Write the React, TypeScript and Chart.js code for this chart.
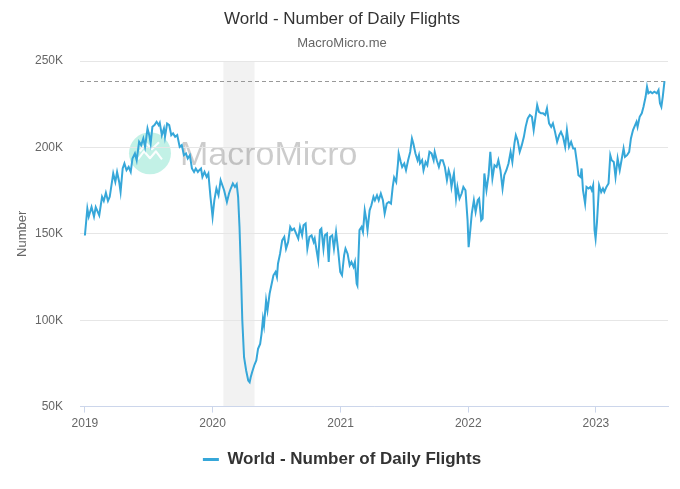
import { useEffect, useRef } from 'react';
import { Chart, registerables } from 'chart.js';

Chart.register(...registerables);

const FONT = '"Liberation Sans", Arial, Helvetica, sans-serif';
const TITLE = 'World - Number of Daily Flights';
const SUBTITLE = 'MacroMicro.me';
const Y_TITLE = 'Number';
const WATERMARK = 'MacroMicro';
const LINE_COLOR = '#36a7d9';

// x axis
const yearTicks = [2019, 2020, 2021, 2022, 2023];
const xRange = ['2018-12-18', '2023-07-26'];
// y axis (thousands)
const yTicks = [50, 100, 150, 200, 250];
// shaded period
const recession = ['2020-02-01', '2020-04-30'];

const dates = [
  '2019-01-01','2019-01-08','2019-01-12','2019-01-20','2019-01-27','2019-02-01','2019-02-11','2019-02-19','2019-02-24','2019-03-02',
  '2019-03-08','2019-03-13','2019-03-23','2019-03-29','2019-04-03','2019-04-09','2019-04-13','2019-04-19','2019-04-24','2019-04-30',
  '2019-05-06','2019-05-12','2019-05-17','2019-05-24','2019-05-29','2019-06-05','2019-06-11','2019-06-17','2019-06-22','2019-06-29',
  '2019-07-04','2019-07-08','2019-07-13','2019-07-19','2019-07-25','2019-07-31','2019-08-03','2019-08-09','2019-08-15','2019-08-18',
  '2019-08-24','2019-08-30','2019-09-05','2019-09-10','2019-09-16','2019-09-22','2019-09-29','2019-10-05','2019-10-11','2019-10-17',
  '2019-10-22','2019-10-28','2019-11-03','2019-11-09','2019-11-14','2019-11-20','2019-11-24','2019-11-29','2019-12-03','2019-12-09',
  '2019-12-15','2019-12-20','2019-12-26',
  '2020-01-01','2020-01-06','2020-01-12','2020-01-18','2020-01-24','2020-01-29','2020-02-03','2020-02-11','2020-02-17','2020-02-22',
  '2020-02-28','2020-03-05','2020-03-10','2020-03-14','2020-03-18','2020-03-22','2020-03-26','2020-03-31','2020-04-06','2020-04-12',
  '2020-04-16','2020-04-19','2020-04-23','2020-04-29','2020-05-05','2020-05-10','2020-05-16','2020-05-20','2020-05-24','2020-05-27',
  '2020-06-02','2020-06-06','2020-06-12','2020-06-18','2020-06-23','2020-06-29','2020-07-03','2020-07-06','2020-07-12','2020-07-18',
  '2020-07-24','2020-07-29','2020-08-04','2020-08-10','2020-08-15','2020-08-21','2020-08-27','2020-09-02','2020-09-07','2020-09-13',
  '2020-09-17','2020-09-23','2020-09-28','2020-10-04','2020-10-10','2020-10-16','2020-10-19','2020-10-25','2020-10-29','2020-11-03',
  '2020-11-07','2020-11-13','2020-11-17','2020-11-23','2020-11-28','2020-12-02','2020-12-08','2020-12-13','2020-12-19','2020-12-25',
  '2020-12-31',
  '2021-01-05','2021-01-11','2021-01-15','2021-01-21','2021-01-27','2021-02-01','2021-02-07','2021-02-11','2021-02-16','2021-02-18',
  '2021-02-24','2021-03-02','2021-03-06','2021-03-11','2021-03-15','2021-03-19','2021-03-25','2021-03-30','2021-04-05','2021-04-09',
  '2021-04-15','2021-04-20','2021-04-26','2021-05-02','2021-05-07','2021-05-13','2021-05-19','2021-05-25','2021-05-30','2021-06-03',
  '2021-06-09','2021-06-14','2021-06-16','2021-06-22','2021-06-26','2021-07-02','2021-07-07','2021-07-13','2021-07-19','2021-07-24',
  '2021-07-28','2021-08-03','2021-08-09','2021-08-13','2021-08-16','2021-08-22','2021-08-26','2021-09-01','2021-09-06','2021-09-12',
  '2021-09-18','2021-09-24','2021-09-27','2021-10-03','2021-10-09','2021-10-14','2021-10-20','2021-10-26','2021-11-01','2021-11-06',
  '2021-11-10','2021-11-14','2021-11-18','2021-11-21','2021-11-27','2021-12-01','2021-12-07','2021-12-13','2021-12-18','2021-12-24',
  '2021-12-30',
  '2022-01-02','2022-01-05','2022-01-11','2022-01-17','2022-01-22','2022-01-28','2022-02-01','2022-02-07','2022-02-11','2022-02-16',
  '2022-02-22','2022-02-28','2022-03-05','2022-03-11','2022-03-17','2022-03-23','2022-03-28','2022-04-03','2022-04-09','2022-04-14',
  '2022-04-20','2022-04-26','2022-05-02','2022-05-07','2022-05-13','2022-05-17','2022-05-22','2022-05-28','2022-06-03','2022-06-09',
  '2022-06-14','2022-06-20','2022-06-26','2022-07-02','2022-07-07','2022-07-11','2022-07-17','2022-07-22','2022-07-28','2022-08-03',
  '2022-08-09','2022-08-14','2022-08-20','2022-08-26','2022-08-31','2022-09-06','2022-09-12','2022-09-18','2022-09-23','2022-09-29',
  '2022-10-05','2022-10-10','2022-10-16','2022-10-22','2022-10-28','2022-11-02','2022-11-08','2022-11-12','2022-11-18','2022-11-21',
  '2022-11-25','2022-12-01','2022-12-05','2022-12-11','2022-12-16','2022-12-20','2022-12-24','2022-12-28','2022-12-31',
  '2023-01-04','2023-01-10','2023-01-16','2023-01-21','2023-01-25','2023-01-31','2023-02-06','2023-02-11','2023-02-15','2023-02-21',
  '2023-02-26','2023-03-04','2023-03-10','2023-03-16','2023-03-21','2023-03-25','2023-03-31','2023-04-06','2023-04-11','2023-04-17',
  '2023-04-23','2023-04-27','2023-04-30','2023-05-06','2023-05-12','2023-05-17','2023-05-23','2023-05-27','2023-05-31','2023-06-06',
  '2023-06-11','2023-06-17','2023-06-24','2023-06-29','2023-07-03','2023-07-07','2023-07-11','2023-07-16',
];

// daily flights, thousands
const flights = [
  149.0,164.6,160.0,165.5,160.0,165.4,160.7,171.4,169.0,173.7,
  169.0,171.4,184.9,180.0,185.8,180.0,174.2,187.8,190.7,186.8,
  188.7,185.8,193.6,196.5,192.6,203.2,201.3,205.2,200.3,211.0,
  207.1,202.3,211.9,212.9,214.8,212.9,214.2,207.1,211.0,206.1,
  213.8,212.9,207.1,208.1,206.1,207.1,200.3,201.3,195.5,196.5,
  193.6,195.5,187.8,185.8,187.8,185.8,186.8,187.8,182.9,185.8,
  182.9,184.9,171.4,
  159.8,169.4,176.2,172.3,181.0,178.1,175.2,168.4,173.3,176.2,
  179.1,177.1,178.7,171.4,154.0,128.8,99.9,78.6,70.9,65.1,
  64.1,67.0,69.9,73.8,76.7,83.4,86.3,92.1,100.8,96.9,
  111.4,105.7,115.3,121.1,126.0,127.9,125.0,132.7,138.5,146.2,
  148.2,141.4,145.3,154.0,152.1,153.0,150.1,147.2,154.0,149.1,
  154.9,155.9,141.4,148.2,149.1,145.3,147.2,139.5,134.6,152.1,
  153.0,141.4,149.1,150.1,133.7,148.2,149.1,141.4,151.1,140.4,
  127.9,
  126.0,137.5,141.4,138.5,131.7,133.7,130.8,133.7,121.1,120.1,
  152.1,154.0,151.1,163.6,158.8,152.1,163.6,166.5,171.4,169.4,
  172.3,169.4,173.3,169.4,161.7,167.5,168.4,167.5,177.1,182.6,
  180.0,190.7,196.5,191.6,188.7,190.7,186.8,192.6,197.4,205.2,
  202.3,196.5,192.6,195.5,190.7,192.6,186.8,191.6,189.7,197.4,
  196.5,192.6,197.4,192.6,188.7,192.6,192.6,188.7,181.0,186.8,
  183.9,177.1,182.0,184.9,170.4,177.1,170.4,173.3,177.1,175.2,
  157.8,
  142.3,148.2,161.7,169.4,162.7,169.4,170.4,157.8,158.8,184.9,
  175.2,183.9,197.4,182.0,189.7,188.7,192.6,186.8,176.2,183.9,
  186.8,190.7,197.4,191.6,202.3,207.1,204.2,197.4,201.3,206.1,
  211.9,216.8,218.7,217.7,210.0,215.8,224.5,220.6,219.7,219.7,
  218.7,222.6,213.9,211.9,213.9,209.0,203.2,207.1,209.0,206.1,
  200.3,210.0,200.3,203.2,199.4,199.4,190.7,183.9,182.9,187.8,
  175.2,167.5,177.1,176.2,177.1,175.2,178.1,152.1,147.2,
  156.9,178.1,174.2,176.2,174.2,177.1,179.1,195.5,192.6,191.6,
  182.9,193.6,186.8,193.6,199.4,194.5,195.5,197.4,205.2,210.0,
  212.9,214.8,211.9,217.7,219.7,223.5,229.3,235.1,231.3,232.2,
  231.3,232.2,231.3,233.2,225.5,223.5,229.3,238.4,
];

const ts = (d: string) => Date.parse(d);

const backgroundPlugin = {
  id: 'bgDecor',
  beforeDraw(chart: any) {
    const { ctx, chartArea: a, scales } = chart;
    const x0 = scales.x.getPixelForValue(ts(recession[0]));
    const x1 = scales.x.getPixelForValue(ts(recession[1]));
    ctx.save();
    ctx.fillStyle = '#f2f2f2';
    ctx.fillRect(x0, a.top, x1 - x0, a.bottom - a.top);

    // watermark
    const w = a.right - a.left;
    const h = a.bottom - a.top;
    const cx = a.left + w * 0.119;
    const cy = a.top + h * 0.267;
    ctx.fillStyle = 'rgba(120, 225, 200, 0.45)';
    ctx.beginPath();
    ctx.arc(cx, cy, 21, 0, Math.PI * 2);
    ctx.fill();
    ctx.strokeStyle = 'rgba(255,255,255,0.95)';
    ctx.lineWidth = 2;
    ctx.lineJoin = 'round';
    ctx.beginPath();
    ctx.moveTo(cx - 12, cy + 6);
    ctx.lineTo(cx - 6, cy - 2);
    ctx.lineTo(cx, cy + 5);
    ctx.lineTo(cx + 6, cy - 2);
    ctx.lineTo(cx + 12, cy + 6);
    ctx.stroke();
    ctx.beginPath();
    ctx.moveTo(cx - 10, cy - 2);
    ctx.lineTo(cx - 4, cy - 10);
    ctx.lineTo(cx + 2, cy - 4);
    ctx.lineTo(cx + 9, cy - 11);
    ctx.stroke();
    ctx.font = `34px ${FONT}`;
    ctx.fillStyle = 'rgba(0,0,0,0.2)';
    ctx.textBaseline = 'alphabetic';
    ctx.textAlign = 'left';
    ctx.fillText(WATERMARK, a.left + w * 0.17, a.top + h * 0.301);
    ctx.restore();
  },
  beforeDatasetsDraw(chart: any) {
    const { ctx, chartArea: a, scales } = chart;
    const y = scales.y.getPixelForValue(flights[flights.length - 1]);
    ctx.save();
    ctx.strokeStyle = '#999999';
    ctx.lineWidth = 1;
    ctx.setLineDash([4, 3]);
    ctx.beginPath();
    ctx.moveTo(a.left, Math.round(y) + 0.5);
    ctx.lineTo(a.right, Math.round(y) + 0.5);
    ctx.stroke();
    ctx.restore();
  },
};

export default function App() {
  const ref = useRef<HTMLCanvasElement | null>(null);

  useEffect(() => {
    if (!ref.current) return;
    Chart.defaults.font.family = FONT;
    const points = dates.map((d, i) => ({ x: ts(d), y: flights[i] }));
    const chart = new Chart(ref.current, {
      type: 'line',
      data: {
        datasets: [
          {
            label: TITLE,
            data: points,
            borderColor: LINE_COLOR,
            backgroundColor: LINE_COLOR,
            borderWidth: 2,
            pointRadius: 0,
            tension: 0,
            fill: false,
          },
        ],
      },
      options: {
        responsive: false,
        animation: false,
        layout: { padding: { left: 16, right: 12, top: 0, bottom: 11 } },
        plugins: {
          title: {
            display: true,
            text: TITLE,
            color: '#333333',
            font: { family: FONT, size: 17, weight: 'normal' },
            padding: { top: 9, bottom: 4 },
          },
          subtitle: {
            display: true,
            text: SUBTITLE,
            color: '#666666',
            font: { family: FONT, size: 13 },
            padding: { top: 2, bottom: 10 },
          },
          legend: {
            position: 'bottom',
            labels: {
              boxWidth: 16,
              boxHeight: 3,
              padding: 16,
              color: '#333333',
              font: { family: FONT, size: 17, weight: 'bold' },
              generateLabels: (c: any) =>
                Chart.defaults.plugins.legend.labels
                  .generateLabels(c)
                  .map((l: any) => ({ ...l, lineWidth: 0 })),
            },
          },
          tooltip: { enabled: false },
        },
        scales: {
          x: {
            type: 'linear',
            min: ts(xRange[0]),
            max: ts(xRange[1]),
            afterBuildTicks: (scale: any) => {
              scale.ticks = yearTicks.map((y) => ({ value: Date.UTC(y, 0, 1) }));
            },
            grid: {
              drawOnChartArea: false,
              drawTicks: true,
              tickLength: 6,
              color: '#ccd6eb',
            },
            border: { display: true, color: '#ccd6eb' },
            ticks: {
              color: '#666666',
              font: { family: FONT, size: 12 },
              padding: 4,
              maxRotation: 0,
              autoSkip: false,
              callback: (v: any) => String(new Date(Number(v)).getUTCFullYear()),
            },
          },
          y: {
            min: yTicks[0],
            max: yTicks[yTicks.length - 1],
            afterBuildTicks: (scale: any) => {
              scale.ticks = yTicks.map((v) => ({ value: v }));
            },
            afterFit: (scale: any) => {
              scale.width = 64;
            },
            grid: { color: '#e6e6e6', drawTicks: false },
            border: { display: false },
            ticks: {
              color: '#666666',
              font: { family: FONT, size: 12 },
              padding: 17,
              callback: (v: any) => `${v}K`,
            },
            title: {
              display: true,
              text: Y_TITLE,
              color: '#666666',
              font: { family: FONT, size: 13, lineHeight: 1 },
              padding: { top: 0, bottom: 4 },
            },
          },
        },
      },
      plugins: [backgroundPlugin],
    } as any);
    return () => chart.destroy();
  }, []);

  return (
    <div style={{ position: 'absolute', left: 0, top: 0, width: 680, height: 489, background: '#ffffff' }}>
      <canvas ref={ref} width={680} height={489} />
    </div>
  );
}
